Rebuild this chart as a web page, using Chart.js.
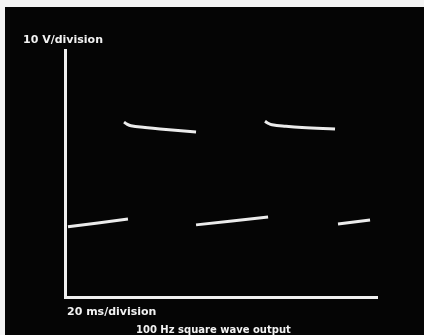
<!DOCTYPE html>
<html>
<head>
<meta charset="utf-8">
<script src="https://cdn.jsdelivr.net/npm/chart.js@4"></script>
<style>
  html, body { margin: 0; padding: 0; background: #f4f4f4; }
  #wrap { position: absolute; left: 5px; top: 7px; width: 419px; height: 328px; background: #050505; }
  canvas { display: block; }
</style>
</head>
<body>
<div id="wrap"><canvas id="scope" width="419" height="328"></canvas></div>
<script>
// trace: time in ms, level in volts
var low_1_t = [0.21, 4.44];
var low_1_v = [14.2, 15.8];
var high_1_t = [4.16, 4.37, 4.65, 5.64, 6.70, 9.24];
var high_1_v = [35.4, 34.98, 34.66, 34.31, 34.0, 33.4];
var low_2_t = [9.24, 14.32];
var low_2_v = [14.6, 16.2];
var high_2_t = [14.10, 14.32, 14.60, 15.58, 16.71, 19.04];
var high_2_v = [35.6, 35.18, 34.86, 34.55, 34.31, 34.0];
var low_3_t = [19.25, 21.51];
var low_3_v = [14.8, 15.6];

var y_label = '10 V/division';
var x_label = '20 ms/division';
var caption = '100 Hz square wave output';

function MakePoints(ts, vs) {
    let pts = [];
    for (let i = 0; i < ts.length; i++) {
        pts.push({x: ts[i], y: vs[i]});
    }
    return pts;
}

function TraceSet(ts, vs) {
    return {
        data: MakePoints(ts, vs),
        borderColor: '#ececec',
        borderWidth: 3,
        pointRadius: 0,
        tension: 0.4,
        fill: false
    };
}

// labels written on the photo
const labelPlugin = {
    id: 'scopeLabels',
    afterDraw(chart) {
        const ctx = chart.ctx;
        const area = chart.chartArea;
        ctx.save();
        ctx.fillStyle = '#f2f2f2';
        ctx.textBaseline = 'middle';
        ctx.font = 'bold 11px "DejaVu Sans"';
        ctx.textAlign = 'left';
        ctx.fillText(y_label, 18, area.top - 10);
        ctx.fillText(x_label, area.left + 2, area.bottom + 15);
        ctx.font = 'bold 10px "DejaVu Sans"';
        ctx.fillText(caption, area.left + 71, area.bottom + 33);
        ctx.restore();
    }
};

new Chart(document.getElementById('scope'), {
    type: 'line',
    data: {
        datasets: [
            TraceSet(low_1_t, low_1_v),
            TraceSet(high_1_t, high_1_v),
            TraceSet(low_2_t, low_2_v),
            TraceSet(high_2_t, high_2_v),
            TraceSet(low_3_t, low_3_v)
        ]
    },
    options: {
        responsive: false,
        animation: false,
        layout: {
            padding: {left: 60, top: 43, right: 47, bottom: 38}
        },
        plugins: {
            legend: {display: false},
            tooltip: {enabled: false}
        },
        scales: {
            x: {
                type: 'linear',
                min: 0,
                max: 22,
                grid: {display: false, drawTicks: false},
                ticks: {display: false},
                border: {color: '#f0f0f0', width: 3}
            },
            y: {
                min: 0,
                max: 50,
                grid: {display: false, drawTicks: false},
                ticks: {display: false},
                border: {color: '#f0f0f0', width: 3}
            }
        }
    },
    plugins: [labelPlugin]
});
</script>
</body>
</html>
